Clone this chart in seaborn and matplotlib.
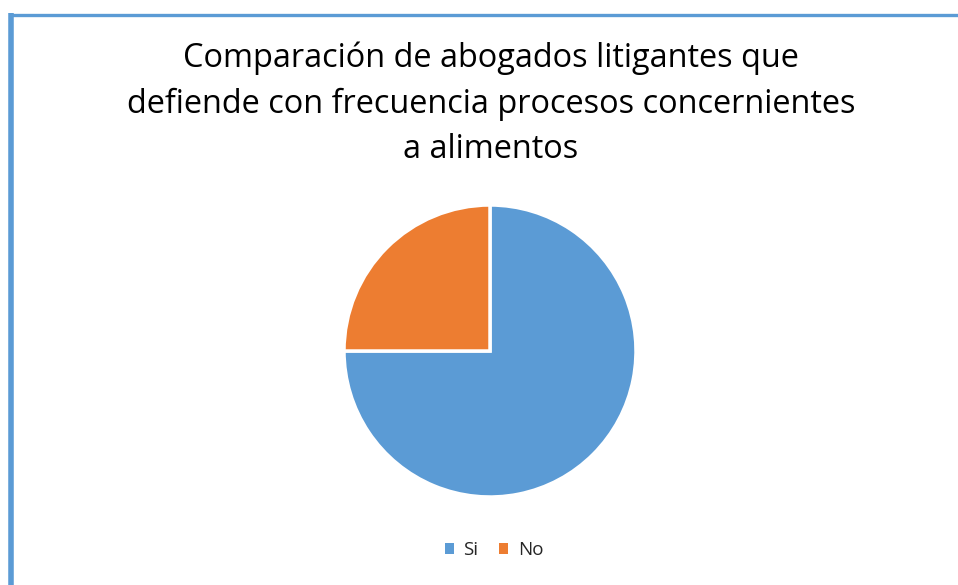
import matplotlib
matplotlib.use("Agg")
import matplotlib.pyplot as plt
import seaborn as sns
from matplotlib.lines import Line2D
from matplotlib.patches import Patch

# datos
categorias = ['Si', 'No']
valores = [75, 25]
colores = ['#5B9BD5', '#ED7D31']
titulo = 'Comparación de abogados litigantes que\ndefiende con frecuencia procesos concernientes\na alimentos'

sns.set_theme(style='white')
plt.rcParams['font.family'] = ['Open Sans', 'DejaVu Sans']

W, H = 958, 585
fig = plt.figure(figsize=(W / 100, H / 100), dpi=100)

# pastel: centro (490, 351), radio 146 px
cx, cy, r = 490, 351, 146
ax = fig.add_axes([(cx - r) / W, (H - cy - r) / H, 2 * r / W, 2 * r / H])
ax.pie(valores, colors=colores, startangle=90, counterclock=False,
       wedgeprops={'edgecolor': 'white', 'linewidth': 2.5})
ax.set_xlim(-1.0, 1.0)
ax.set_ylim(-1.0, 1.0)
ax.set_aspect('equal')
ax.axis('off')

fig.text(491 / W, 1 - 104 / H, titulo, ha='center', va='center',
         fontsize=23.4, color='#000000', linespacing=1.5,
         transform=fig.transFigure)

# borde azul (izquierda y arriba)
fig.add_artist(Line2D([10.5 / W, 10.5 / W], [0, 1 - 13 / H], color='#5B9BD5',
                      linewidth=4, solid_capstyle='butt', transform=fig.transFigure))
fig.add_artist(Line2D([8.5 / W, 1], [1 - 14.5 / H, 1 - 14.5 / H], color='#5B9BD5',
                      linewidth=2.4, solid_capstyle='butt', transform=fig.transFigure))

handles = [Patch(facecolor=c, edgecolor='none', label=l) for c, l in zip(colores, categorias)]
fig.legend(handles=handles, loc='center', bbox_to_anchor=(494 / W, 1 - 550 / H),
           ncol=2, frameon=False, fontsize=13.5, handlelength=0.5, handleheight=0.5,
           handletextpad=0.5, columnspacing=1.1)

fig.savefig('out.png', dpi=100)
